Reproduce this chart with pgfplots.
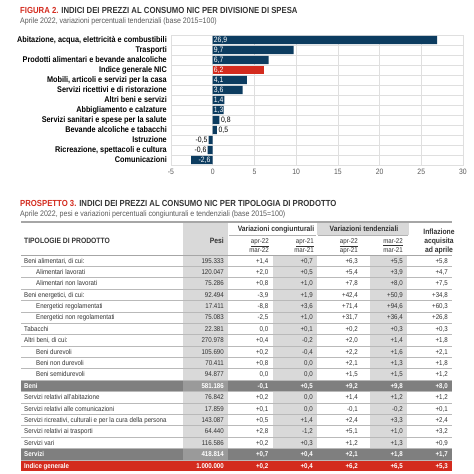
\documentclass[border=0pt]{standalone}
\usepackage{fontspec}
\setmainfont[FakeStretch=0.88]{Liberation Sans}
\usepackage{pgfplots}
\pgfplotsset{compat=1.18}
\definecolor{navy}{HTML}{0C3C60}
\definecolor{istred}{HTML}{D32B1E}
\definecolor{rowgrey}{HTML}{7F7F7F}
\definecolor{cellgrey}{HTML}{9A9A9A}
\definecolor{colgrey}{HTML}{D9D9D9}
\definecolor{txt}{HTML}{333333}
\definecolor{ticktxt}{HTML}{595959}
\newcommand{\fT}{\fontsize{8.8}{10}\selectfont}
\newcommand{\fS}{\fontsize{8}{9}\selectfont}
\newcommand{\fB}{\fontsize{7}{8}\selectfont}
\newcommand{\fH}{\fontsize{7.7}{8.5}\selectfont}
\newcommand{\fC}{\fontsize{8.3}{9.5}\selectfont}
\newcommand{\fN}{\fontsize{7.8}{9}\selectfont}
\begin{document}
\begin{tikzpicture}
\begin{scope}[x=1pt,y=-1pt]
\path[use as bounding box] (0,0) rectangle (474,474);
% ---------- titles
\node[anchor=base west,inner sep=0,font=\fT\bfseries] at (20,13.2)
  {\textcolor{istred}{FIGURA 2.} \textcolor{txt}{INDICI DEI PREZZI AL CONSUMO NIC PER DIVISIONE DI SPESA}};
\node[anchor=base west,inner sep=0,font=\fS,text=ticktxt] at (20,23.8)
  {Aprile 2022, variazioni percentuali tendenziali (base 2015=100)};
\node[anchor=base west,inner sep=0,font=\fT\bfseries] at (20,206.2)
  {\textcolor{istred}{PROSPETTO 3.} \textcolor{txt}{INDICI DEI PREZZI AL CONSUMO NIC PER TIPOLOGIA DI PRODOTTO}};
\node[anchor=base west,inner sep=0,font=\fS,text=ticktxt] at (20,216.4)
  {Aprile 2022, pesi e variazioni percentuali congiunturali e tendenziali (base 2015=100)};
% ---------- table backgrounds
\fill[colgrey] (183,222) rectangle (228,471);
\fill[colgrey] (317,222) rectangle (409,235);
\fill[colgrey] (273,255.5) rectangle (317,471);
\fill[colgrey] (370,255.5) rectangle (407,471);
% special rows
\foreach \r/\c in {11/rowgrey,17/rowgrey,18/istred}{
  \pgfmathsetmacro{\yc}{260.5+11.39*\r}
  \fill[\c] (21,\yc-5.7) rectangle (452,\yc+5.7);
}
\foreach \r in {11,17}{
  \pgfmathsetmacro{\yc}{260.5+11.39*\r}
  \fill[cellgrey] (183,\yc-5.7) rectangle (228,\yc+5.7);
}
% row separators
\foreach \r in {1,...,18}{
  \pgfmathsetmacro{\yb}{260.5+11.39*\r-5.7}
  \draw[gray!55,line width=0.5pt] (21,\yb) -- (452,\yb);
}
% header lines
\draw[gray!70,line width=1.4pt] (21,222) -- (452,222);
\draw[gray!70,line width=1.2pt] (21,255.3) -- (452,255.3);
\draw[gray!60,line width=0.6pt] (229,235) -- (316,235);
\draw[gray!60,line width=0.6pt] (318,235) -- (408,235);
% header text
\begin{scope}[every node/.style={inner sep=0,font=\fH\bfseries,text=txt}]
\node[anchor=base west] at (24,243.5) {TIPOLOGIE DI PRODOTTO};
\node[anchor=base east] at (224,243.5) {Pesi};
\node[anchor=base] at (276,231.8) {Variazioni congiunturali};
\node[anchor=base] at (364,231.8) {Variazioni tendenziali};
\node[anchor=base] at (439,234.4) {Inflazione};
\node[anchor=base] at (439,243.5) {acquisita};
\node[anchor=base] at (439,252.6) {ad aprile};
\end{scope}
\begin{scope}[every node/.style={inner sep=0,font=\fB,text=txt}]
\node[anchor=base east] at (269,243.3) {\underline{apr-22}};
\node[anchor=base east] at (269,252.6) {mar-22};
\node[anchor=base east] at (314,243.3) {\underline{apr-21}};
\node[anchor=base east] at (314,252.6) {mar-21};
\node[anchor=base east] at (358,243.3) {\underline{apr-22}};
\node[anchor=base east] at (358,252.6) {apr-21};
\node[anchor=base east] at (403,243.3) {\underline{mar-22}};
\node[anchor=base east] at (403,252.6) {mar-21};
\end{scope}
% body rows: index/indent/style/label/pesi/c1/c2/c3/c4/c5
\foreach \r/\ind/\st/\lab/\pw/\ca/\cb/\cc/\cd/\ce in {
 0/24/n/{Beni alimentari, di cui:}/{195.333}/{+1,4}/{+0,7}/{+6,3}/{+5,5}/{+5,8},
 1/36/n/{Alimentari lavorati}/{120.047}/{+2,0}/{+0,5}/{+5,4}/{+3,9}/{+4,7},
 2/36/n/{Alimentari non lavorati}/{75.286}/{+0,8}/{+1,0}/{+7,8}/{+8,0}/{+7,5},
 3/24/n/{Beni energetici, di cui:}/{92.494}/{-3,9}/{+1,9}/{+42,4}/{+50,9}/{+34,8},
 4/36/n/{Energetici regolamentati}/{17.411}/{-8,8}/{+3,6}/{+71,4}/{+94,6}/{+60,3},
 5/36/n/{Energetici non regolamentati}/{75.083}/{-2,5}/{+1,0}/{+31,7}/{+36,4}/{+26,8},
 6/24/n/{Tabacchi}/{22.381}/{0,0}/{+0,1}/{+0,2}/{+0,3}/{+0,3},
 7/24/n/{Altri beni, di cui:}/{270.978}/{+0,4}/{-0,2}/{+2,0}/{+1,4}/{+1,8},
 8/36/n/{Beni durevoli}/{105.690}/{+0,2}/{-0,4}/{+2,2}/{+1,6}/{+2,1},
 9/36/n/{Beni non durevoli}/{70.411}/{+0,8}/{0,0}/{+2,1}/{+1,3}/{+1,8},
 10/36/n/{Beni semidurevoli}/{94.877}/{0,0}/{0,0}/{+1,5}/{+1,5}/{+1,2},
 11/24/b/{Beni}/{581.186}/{-0,1}/{+0,5}/{+9,2}/{+9,8}/{+8,0},
 12/24/n/{Servizi relativi all'abitazione}/{76.842}/{+0,2}/{0,0}/{+1,4}/{+1,2}/{+1,2},
 13/24/n/{Servizi relativi alle comunicazioni}/{17.859}/{+0,1}/{0,0}/{-0,1}/{-0,2}/{+0,1},
 14/24/n/{Servizi ricreativi, culturali e per la cura della persona}/{143.087}/{+0,5}/{+1,4}/{+2,4}/{+3,3}/{+2,4},
 15/24/n/{Servizi relativi ai trasporti}/{64.440}/{+2,8}/{-1,2}/{+5,1}/{+1,0}/{+3,2},
 16/24/n/{Servizi vari}/{116.586}/{+0,2}/{+0,3}/{+1,2}/{+1,3}/{+0,9},
 17/24/b/{Servizi}/{418.814}/{+0,7}/{+0,4}/{+2,1}/{+1,8}/{+1,7},
 18/24/b/{Indice generale}/{1.000.000}/{+0,2}/{+0,4}/{+6,2}/{+6,5}/{+5,3}}{
  \pgfmathsetmacro{\yb}{260.5+11.39*\r+2.5}
  \if b\st
    \def\tstyle{\bfseries\color{white}}
  \else
    \def\tstyle{\color{txt}}
  \fi
  \node[anchor=base west,inner sep=0,font=\fB] at (\ind,\yb) {\tstyle\lab};
  \node[anchor=base east,inner sep=0,font=\fB] at (224,\yb) {\tstyle\pw};
  \node[anchor=base east,inner sep=0,font=\fB] at (268.5,\yb) {\tstyle\ca};
  \node[anchor=base east,inner sep=0,font=\fB] at (313,\yb) {\tstyle\cb};
  \node[anchor=base east,inner sep=0,font=\fB] at (358,\yb) {\tstyle\cc};
  \node[anchor=base east,inner sep=0,font=\fB] at (403,\yb) {\tstyle\cd};
  \node[anchor=base east,inner sep=0,font=\fB] at (448,\yb) {\tstyle\ce};
}
\end{scope}
% ---------- bar chart
\begin{axis}[
  at={(171pt,-165pt)}, anchor=south west,
  scale only axis, width=292pt, height=130pt,
  xmin=-5, xmax=30, ymin=-0.5, ymax=12.5,
  xtick={-5,0,...,30},
  ytick={0,...,12},
  yticklabels={Comunicazioni,{Ricreazione, spettacoli e cultura},Istruzione,
    Bevande alcoliche e tabacchi,Servizi sanitari e spese per la salute,
    Abbigliamento e calzature,Altri beni e servizi,Servizi ricettivi e di ristorazione,
    {Mobili, articoli e servizi per la casa},Indice generale NIC,
    Prodotti alimentari e bevande analcoliche,Trasporti,
    {Abitazione, acqua, elettricità e combustibili}},
  minor ytick={0.5,1.5,...,11.5},
  yminorgrids, xmajorgrids,
  major grid style={gray!25,line width=0.5pt},
  minor grid style={gray!25,line width=0.5pt},
  axis line style={gray!25,line width=0.5pt},
  major tick length=0pt, minor tick length=0pt,
  /pgf/number format/assume math mode=true,
  xticklabel style={font=\fN,text=ticktxt,inner sep=0pt,yshift=-4pt},
  yticklabel style={font=\fC\bfseries,text=black,inner sep=0pt,xshift=-4pt},
  bar width=8.2pt,
  clip=false,
]
\addplot[xbar,bar shift=0pt,fill=navy,draw=none] coordinates {
 (-2.6,0) (-0.6,1) (-0.5,2) (0.5,3) (0.8,4) (1.3,5) (1.4,6) (3.6,7) (4.1,8) (6.7,10) (9.7,11) (26.9,12)};
\addplot[xbar,bar shift=0pt,fill=istred,draw=none] coordinates {(6.2,9)};
% white labels inside, starting at the base
\addplot[draw=none,mark=none,nodes near coords,point meta=explicit symbolic,
  nodes near coords style={anchor=west,inner sep=1pt,text=white,font=\fN}]
  coordinates {(0,12) [26,9] (0,11) [9,7] (0,10) [6,7] (0,9) [6,2] (0,8) [4,1]
               (0,7) [3,6] (0,6) [1,4] (0,5) [1,3]};
% dark labels right of small positive bars
\addplot[draw=none,mark=none,nodes near coords,point meta=explicit symbolic,
  nodes near coords style={anchor=west,inner sep=1.5pt,text=black,font=\fN}]
  coordinates {(0.8,4) [0,8] (0.5,3) [0,5]};
% dark labels left of small negative bars
\addplot[draw=none,mark=none,nodes near coords,point meta=explicit symbolic,
  nodes near coords style={anchor=east,inner sep=1pt,text=black,font=\fN}]
  coordinates {(-0.5,2) [-0,5] (-0.6,1) [-0,6]};
% white label inside the larger negative bar
\addplot[draw=none,mark=none,nodes near coords,point meta=explicit symbolic,
  nodes near coords style={anchor=east,inner sep=1pt,xshift=-1pt,text=white,font=\fN}]
  coordinates {(0,0) [-2,6]};
\end{axis}
\end{tikzpicture}
\end{document}
